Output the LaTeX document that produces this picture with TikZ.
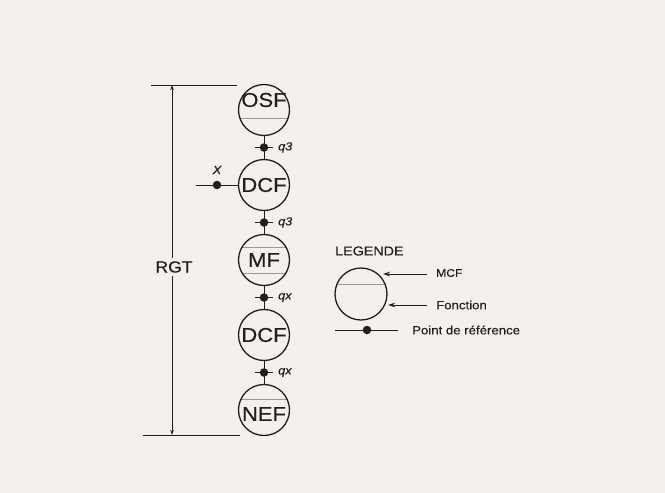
\documentclass[tikz,border=0pt]{standalone}
\usepackage{fontspec}
\setmainfont{Liberation Sans}[FakeStretch=1.1, FakeBold=0.3]
\usetikzlibrary{arrows.meta}
\definecolor{paper}{RGB}{243,240,238}
\definecolor{ink}{RGB}{34,30,30}
\definecolor{chordred}{RGB}{172,146,140}

\begin{document}
\begin{tikzpicture}[x=1pt, y=-1pt, draw=ink, text=ink,
    mcf/.style={circle, draw=ink, line width=1.3pt, minimum size=51pt, inner sep=0pt,
        font=\fontsize{20}{24}\selectfont},
    chord/.style={path picture={
        \foreach \d in {#1}
            \draw[chordred, line width=0.7pt] ([yshift=\d pt]path picture bounding box.west)
                -- ([yshift=\d pt]path picture bounding box.east);}},
    refpt/.style={circle, fill=ink, inner sep=0pt, minimum size=8.5pt},
    qlab/.style={anchor=west, inner sep=0pt, font=\fontsize{11.5}{13}\selectfont\itshape},
    ftxt/.style={inner sep=0pt, font=\fontsize{20}{24}\selectfont},
    legtxt/.style={anchor=west, inner sep=0pt, font=\fontsize{12}{14}\selectfont}]

    % background and frame of the page
    \fill[paper] (0,0) rectangle (665,493);
    \useasboundingbox (0,0) rectangle (665,493);

    % CHAIN: functions
    \node[mcf, chord={-8}] (osf) at (264,110) {};
    \node[ftxt] (osftxt) at (264,100) {OSF};
    \node[mcf] (dcfa) at (264,185) {DCF};
    \node[mcf, chord={13,-13}] (mf) at (264,260) {MF};
    \node[mcf] (dcfb) at (264,335) {DCF};
    \node[mcf, chord={11}] (nef) at (264,410) {};
    \node[ftxt] (neftxt) at (264,414) {NEF};

    % reference points between the functions
    \foreach \a/\b/\n/\q in {osf/dcfa/qa/q3, dcfa/mf/qb/q3, mf/dcfb/qc/qx, dcfb/nef/qd/qx} {
        \draw[line width=1pt] (\a) -- (\b) node[midway, refpt] (\n) {};
        \draw[line width=1pt] ([xshift=-9pt]\n.center) -- ([xshift=9pt]\n.center);
        \node[qlab] (\n lab) at ([xshift=14pt]\n.center) {\q};
    }

    % input point X
    \coordinate (xend) at (196,185);
    \node[refpt] (xpt) at (217,185) {};
    \draw[line width=1pt] (xend) -- (dcfa.west);
    \node[inner sep=0pt, font=\fontsize{12}{13}\selectfont\itshape] (xlab) at (217,170) {X};

    % RGT dimension
    \coordinate (tl) at (151,85);
    \coordinate (tr) at (237,85);
    \coordinate (bl) at (143,435);
    \coordinate (br) at (240,435);
    \coordinate (rtop) at (172,85);
    \coordinate (rbot) at (172,435);
    \draw[line width=1pt] (tl) -- (tr);
    \draw[line width=1pt] (bl) -- (br);
    \draw[line width=1pt, {Stealth[length=5pt, width=3.5pt]}-{Stealth[length=5pt, width=3.5pt]}] (rtop) -- (rbot);
    \node[fill=paper, inner sep=3pt, font=\fontsize{16}{18}\selectfont] (rgt) at (174,267) {RGT};

    % LEGEND
    \node[legtxt, font=\fontsize{13}{15}\selectfont] (legende) at (335,251) {LEGENDE};
    \node[mcf, minimum size=52pt, chord={10}] (legc) at (361,294) {};
    \coordinate (mcfa) at (427,274);
    \coordinate (mcfb) at (383,274);
    \coordinate (fona) at (427,305);
    \coordinate (fonb) at (388,305);
    \draw[line width=1pt, -{Stealth[length=7pt, width=4.5pt]}] (mcfa) -- (mcfb);
    \draw[line width=1pt, -{Stealth[length=7pt, width=4.5pt]}] (fona) -- (fonb);
    \node[legtxt, font=\fontsize{11}{13}\selectfont] (mcft) at (436,273) {MCF};
    \node[legtxt] (font) at (436,305) {Fonction};
    \coordinate (pa) at (335,330);
    \coordinate (pb) at (398,330);
    \draw[line width=1pt] (pa) -- (pb);
    \node[refpt] (ppt) at (367,330) {};
    \node[legtxt] (ptxt) at (412,330) {Point de référence};

\end{tikzpicture}
\end{document}
